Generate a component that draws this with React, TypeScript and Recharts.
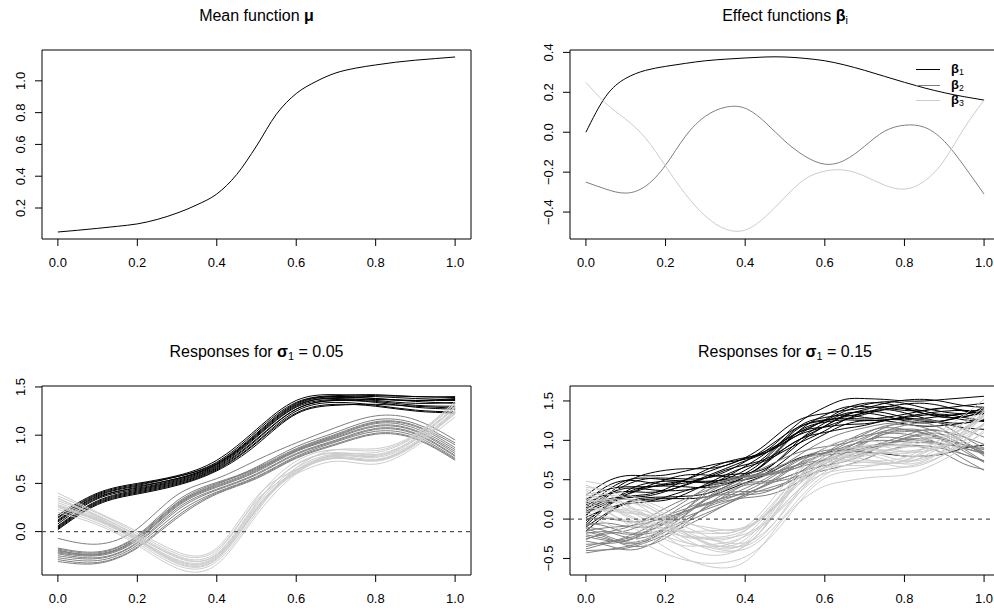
import React from 'react';
import { LineChart, Line, XAxis, YAxis, ReferenceArea, ReferenceLine } from 'recharts';

const FONT = '"Liberation Sans", Arial, Helvetica, sans-serif';
const BLACK = '#000000';
const GRAY = '#7f7f7f';
const LIGHT = '#cccccc';

// shared x ticks
const xTicks = [0, 0.2, 0.4, 0.6, 0.8, 1.0];

// top-left: mean function
const muT = [0, 0.05, 0.1, 0.15, 0.2, 0.25, 0.3, 0.35, 0.4, 0.45, 0.5, 0.55, 0.6, 0.65, 0.7, 0.75, 0.8, 0.85, 0.9, 0.95, 1.0];
const muValues = [0.049, 0.06, 0.072, 0.085, 0.1, 0.128, 0.168, 0.22, 0.288, 0.41, 0.59, 0.79, 0.92, 0.996, 1.05, 1.08, 1.1, 1.117, 1.13, 1.14, 1.15];
const muTicks = [0.2, 0.4, 0.6, 0.8, 1.0];

// top-right: effect functions
const betaT = muT;
const beta1 = [0.0, 0.18, 0.27, 0.31, 0.33, 0.345, 0.358, 0.366, 0.372, 0.377, 0.377, 0.37, 0.358, 0.337, 0.31, 0.28, 0.25, 0.222, 0.198, 0.178, 0.161];
const beta2 = [-0.25, -0.285, -0.305, -0.27, -0.165, -0.02, 0.08, 0.125, 0.12, 0.05, -0.045, -0.12, -0.16, -0.14, -0.07, 0.005, 0.035, 0.025, -0.045, -0.17, -0.31];
const beta3 = [0.25, 0.145, 0.065, -0.03, -0.17, -0.31, -0.42, -0.485, -0.49, -0.425, -0.325, -0.235, -0.195, -0.19, -0.22, -0.265, -0.285, -0.245, -0.14, 0.02, 0.16];
const betaTicks = [-0.4, -0.2, 0, 0.2, 0.4];

// bottom-left: responses, sigma 0.05
const lowT = [0, 0.1, 0.2, 0.3, 0.4, 0.5, 0.6, 0.7, 0.8, 0.9, 1.0];
const lowBlack: number[][] = [
  [0.17, 0.40, 0.50, 0.58, 0.74, 1.06, 1.36, 1.42, 1.41, 1.40, 1.39],
  [0.14, 0.38, 0.48, 0.57, 0.72, 1.04, 1.34, 1.41, 1.42, 1.40, 1.40],
  [0.12, 0.37, 0.47, 0.55, 0.70, 1.01, 1.32, 1.40, 1.40, 1.38, 1.37],
  [0.10, 0.35, 0.46, 0.55, 0.70, 1.00, 1.31, 1.38, 1.36, 1.33, 1.34],
  [0.08, 0.34, 0.44, 0.53, 0.68, 0.98, 1.29, 1.37, 1.37, 1.36, 1.36],
  [0.06, 0.32, 0.43, 0.52, 0.67, 0.96, 1.27, 1.36, 1.35, 1.31, 1.30],
  [0.05, 0.31, 0.42, 0.51, 0.66, 0.95, 1.27, 1.36, 1.34, 1.29, 1.27],
  [0.04, 0.30, 0.41, 0.50, 0.65, 0.93, 1.25, 1.34, 1.31, 1.26, 1.24],
  [0.03, 0.29, 0.40, 0.49, 0.64, 0.92, 1.23, 1.32, 1.30, 1.25, 1.23],
  [0.11, 0.36, 0.45, 0.54, 0.69, 0.99, 1.30, 1.39, 1.38, 1.35, 1.33],
  [0.02, 0.28, 0.39, 0.48, 0.63, 0.90, 1.22, 1.31, 1.32, 1.30, 1.28],
  [0.15, 0.39, 0.49, 0.57, 0.71, 1.02, 1.33, 1.40, 1.38, 1.36, 1.38],
];
const lowGray: number[][] = [
  [-0.07, -0.13, 0.03, 0.38, 0.55, 0.74, 0.92, 1.08, 1.20, 1.16, 0.95],
  [-0.17, -0.21, -0.04, 0.32, 0.51, 0.66, 0.86, 1.01, 1.14, 1.10, 0.90],
  [-0.18, -0.22, -0.05, 0.30, 0.50, 0.65, 0.85, 1.00, 1.13, 1.09, 0.87],
  [-0.20, -0.23, -0.07, 0.28, 0.48, 0.64, 0.84, 0.99, 1.12, 1.07, 0.85],
  [-0.21, -0.24, -0.08, 0.27, 0.47, 0.63, 0.84, 0.98, 1.10, 1.05, 0.83],
  [-0.22, -0.25, -0.09, 0.26, 0.46, 0.62, 0.83, 0.97, 1.09, 1.04, 0.81],
  [-0.23, -0.27, -0.11, 0.24, 0.44, 0.60, 0.81, 0.95, 1.07, 1.02, 0.79],
  [-0.25, -0.28, -0.12, 0.22, 0.43, 0.59, 0.80, 0.94, 1.06, 1.01, 0.78],
  [-0.27, -0.30, -0.14, 0.19, 0.41, 0.57, 0.78, 0.93, 1.04, 0.99, 0.76],
  [-0.29, -0.32, -0.16, 0.16, 0.40, 0.56, 0.77, 0.91, 1.02, 0.97, 0.75],
  [-0.31, -0.33, -0.17, 0.14, 0.39, 0.55, 0.76, 0.90, 1.01, 0.96, 0.74],
  [-0.19, -0.24, -0.06, 0.29, 0.49, 0.67, 0.88, 1.03, 1.16, 1.12, 0.92],
];
const lowLight: number[][] = [
  [0.40, 0.20, 0.00, -0.21, -0.17, 0.36, 0.64, 0.76, 0.74, 0.91, 1.22],
  [0.37, 0.19, -0.02, -0.23, -0.19, 0.34, 0.73, 0.85, 0.84, 1.00, 1.33],
  [0.34, 0.17, -0.04, -0.25, -0.21, 0.32, 0.60, 0.73, 0.70, 0.88, 1.19],
  [0.32, 0.16, -0.05, -0.27, -0.23, 0.30, 0.69, 0.82, 0.80, 0.97, 1.30],
  [0.30, 0.14, -0.07, -0.29, -0.25, 0.27, 0.66, 0.80, 0.78, 0.95, 1.28],
  [0.28, 0.13, -0.08, -0.30, -0.26, 0.25, 0.64, 0.79, 0.77, 0.93, 1.26],
  [0.27, 0.12, -0.09, -0.31, -0.27, 0.24, 0.63, 0.78, 0.75, 0.92, 1.25],
  [0.25, 0.11, -0.10, -0.33, -0.29, 0.22, 0.61, 0.76, 0.73, 0.90, 1.23],
  [0.23, 0.09, -0.12, -0.35, -0.31, 0.20, 0.66, 0.85, 0.86, 1.01, 1.35],
  [0.20, 0.07, -0.14, -0.38, -0.34, 0.17, 0.60, 0.80, 0.82, 0.99, 1.32],
  [0.35, 0.15, -0.06, -0.26, -0.24, 0.29, 0.70, 0.81, 0.79, 0.96, 1.29],
  [0.26, 0.12, -0.08, -0.32, -0.28, 0.23, 0.62, 0.77, 0.74, 0.91, 1.24],
];
const lowTicks = [0, 0.5, 1.0, 1.5];

// bottom-right: responses, sigma 0.15
const highT = muT;
const highBlack: number[][] = [
  [0.30, 0.47, 0.55, 0.55, 0.56, 0.61, 0.67, 0.72, 0.76, 0.86, 1.07, 1.28, 1.42, 1.52, 1.53, 1.52, 1.50, 1.50, 1.52, 1.54, 1.56],
  [0.05, 0.27, 0.43, 0.51, 0.52, 0.51, 0.52, 0.60, 0.73, 0.89, 1.07, 1.20, 1.25, 1.30, 1.35, 1.42, 1.46, 1.47, 1.43, 1.37, 1.34],
  [0.20, 0.31, 0.35, 0.34, 0.36, 0.43, 0.52, 0.62, 0.69, 0.76, 0.90, 1.05, 1.18, 1.31, 1.39, 1.43, 1.40, 1.34, 1.29, 1.30, 1.35],
  [-0.02, 0.15, 0.30, 0.39, 0.45, 0.48, 0.48, 0.50, 0.56, 0.71, 0.95, 1.18, 1.32, 1.42, 1.43, 1.41, 1.38, 1.38, 1.41, 1.44, 1.47],
  [0.15, 0.35, 0.49, 0.52, 0.50, 0.48, 0.47, 0.51, 0.62, 0.79, 1.03, 1.22, 1.29, 1.32, 1.29, 1.27, 1.26, 1.28, 1.31, 1.34, 1.36],
  [-0.10, 0.07, 0.21, 0.27, 0.28, 0.29, 0.32, 0.41, 0.54, 0.70, 0.90, 1.04, 1.10, 1.15, 1.19, 1.25, 1.28, 1.26, 1.21, 1.16, 1.14],
  [0.10, 0.21, 0.27, 0.29, 0.35, 0.44, 0.54, 0.64, 0.74, 0.84, 0.98, 1.10, 1.17, 1.26, 1.33, 1.39, 1.41, 1.37, 1.31, 1.26, 1.24],
  [0.02, 0.13, 0.19, 0.22, 0.28, 0.36, 0.42, 0.46, 0.50, 0.58, 0.75, 0.94, 1.08, 1.20, 1.25, 1.25, 1.21, 1.18, 1.19, 1.22, 1.26],
  [0.25, 0.37, 0.41, 0.41, 0.43, 0.50, 0.59, 0.68, 0.77, 0.86, 1.00, 1.14, 1.25, 1.37, 1.45, 1.49, 1.47, 1.41, 1.36, 1.34, 1.37],
  [-0.05, 0.17, 0.33, 0.41, 0.42, 0.41, 0.40, 0.44, 0.54, 0.72, 0.97, 1.16, 1.23, 1.26, 1.25, 1.26, 1.29, 1.32, 1.33, 1.29, 1.25],
  [0.12, 0.30, 0.39, 0.38, 0.36, 0.37, 0.42, 0.53, 0.67, 0.83, 1.01, 1.13, 1.17, 1.20, 1.21, 1.25, 1.30, 1.34, 1.37, 1.38, 1.37],
  [-0.15, 0.05, 0.20, 0.25, 0.26, 0.26, 0.28, 0.36, 0.46, 0.56, 0.69, 0.80, 0.84, 0.88, 0.85, 0.83, 0.80, 0.80, 0.83, 0.90, 0.94],
  [0.18, 0.25, 0.29, 0.31, 0.38, 0.50, 0.62, 0.72, 0.78, 0.84, 0.97, 1.12, 1.26, 1.40, 1.47, 1.47, 1.41, 1.34, 1.31, 1.34, 1.40],
  [0.04, 0.29, 0.47, 0.57, 0.62, 0.64, 0.64, 0.68, 0.78, 0.94, 1.15, 1.29, 1.34, 1.38, 1.41, 1.47, 1.51, 1.52, 1.49, 1.44, 1.42],
  [0.14, 0.23, 0.25, 0.23, 0.24, 0.32, 0.44, 0.56, 0.66, 0.74, 0.87, 1.00, 1.12, 1.26, 1.35, 1.39, 1.35, 1.28, 1.23, 1.22, 1.26],
  [-0.08, 0.15, 0.35, 0.45, 0.48, 0.48, 0.46, 0.48, 0.58, 0.76, 1.01, 1.20, 1.26, 1.28, 1.27, 1.29, 1.33, 1.38, 1.41, 1.38, 1.32],
  [0.22, 0.41, 0.49, 0.47, 0.44, 0.46, 0.52, 0.56, 0.58, 0.64, 0.81, 1.02, 1.18, 1.32, 1.37, 1.35, 1.29, 1.24, 1.25, 1.30, 1.36],
  [0.08, 0.19, 0.31, 0.41, 0.50, 0.56, 0.56, 0.54, 0.54, 0.62, 0.83, 1.06, 1.22, 1.34, 1.35, 1.31, 1.25, 1.22, 1.25, 1.32, 1.42],
];
const highGray: number[][] = [
  [-0.10, -0.15, -0.23, -0.23, -0.12, 0.05, 0.24, 0.39, 0.46, 0.48, 0.53, 0.63, 0.76, 0.89, 1.02, 1.12, 1.13, 1.09, 0.99, 0.90, 0.83],
  [-0.15, -0.11, -0.09, -0.05, 0.02, 0.10, 0.19, 0.28, 0.39, 0.51, 0.66, 0.80, 0.87, 0.90, 0.92, 0.96, 0.99, 1.03, 1.01, 0.94, 0.84],
  [-0.20, -0.25, -0.31, -0.28, -0.13, 0.06, 0.26, 0.41, 0.51, 0.56, 0.61, 0.68, 0.75, 0.84, 0.96, 1.08, 1.14, 1.12, 1.01, 0.86, 0.72],
  [-0.05, -0.09, -0.17, -0.16, -0.05, 0.12, 0.31, 0.45, 0.54, 0.58, 0.63, 0.72, 0.83, 0.95, 1.08, 1.18, 1.20, 1.16, 1.06, 0.94, 0.85],
  [-0.18, -0.16, -0.19, -0.19, -0.12, -0.01, 0.14, 0.30, 0.44, 0.55, 0.64, 0.71, 0.75, 0.78, 0.84, 0.94, 1.03, 1.09, 1.07, 0.98, 0.85],
  [0.00, 0.01, -0.03, -0.02, 0.08, 0.23, 0.39, 0.49, 0.53, 0.58, 0.70, 0.86, 1.00, 1.10, 1.16, 1.21, 1.23, 1.25, 1.22, 1.14, 1.04],
  [-0.25, -0.19, -0.15, -0.06, 0.04, 0.13, 0.24, 0.37, 0.50, 0.61, 0.70, 0.78, 0.83, 0.88, 0.98, 1.11, 1.19, 1.22, 1.13, 0.97, 0.82],
  [-0.32, -0.31, -0.28, -0.18, -0.03, 0.10, 0.20, 0.27, 0.33, 0.43, 0.58, 0.76, 0.90, 1.00, 1.06, 1.10, 1.11, 1.13, 1.11, 1.04, 0.95],
  [-0.40, -0.39, -0.37, -0.30, -0.20, -0.09, 0.04, 0.18, 0.31, 0.42, 0.53, 0.62, 0.68, 0.73, 0.82, 0.94, 1.01, 1.01, 0.91, 0.76, 0.62],
  [-0.28, -0.33, -0.39, -0.35, -0.20, -0.02, 0.14, 0.23, 0.27, 0.30, 0.38, 0.52, 0.66, 0.78, 0.88, 0.94, 0.94, 0.93, 0.89, 0.82, 0.74],
  [-0.35, -0.29, -0.25, -0.16, -0.06, 0.03, 0.12, 0.21, 0.31, 0.44, 0.60, 0.74, 0.81, 0.84, 0.88, 0.95, 1.02, 1.07, 1.03, 0.89, 0.73],
  [-0.43, -0.39, -0.35, -0.28, -0.16, -0.04, 0.07, 0.18, 0.29, 0.38, 0.46, 0.55, 0.62, 0.68, 0.76, 0.86, 0.92, 0.91, 0.83, 0.70, 0.63],
  [-0.12, -0.21, -0.29, -0.26, -0.10, 0.12, 0.34, 0.49, 0.55, 0.56, 0.60, 0.70, 0.84, 0.98, 1.10, 1.16, 1.14, 1.09, 1.01, 0.94, 0.88],
  [-0.26, -0.17, -0.11, 0.00, 0.14, 0.26, 0.36, 0.45, 0.55, 0.66, 0.78, 0.87, 0.92, 0.96, 1.04, 1.16, 1.24, 1.27, 1.19, 1.04, 0.90],
  [-0.16, -0.23, -0.33, -0.34, -0.24, -0.06, 0.16, 0.33, 0.43, 0.46, 0.50, 0.58, 0.70, 0.84, 0.98, 1.08, 1.08, 1.03, 0.93, 0.82, 0.74],
  [-0.38, -0.31, -0.23, -0.12, 0.00, 0.10, 0.18, 0.25, 0.35, 0.48, 0.64, 0.78, 0.84, 0.86, 0.90, 0.98, 1.06, 1.13, 1.11, 0.98, 0.80],
  [-0.08, -0.05, -0.09, -0.10, -0.04, 0.08, 0.24, 0.33, 0.35, 0.36, 0.44, 0.60, 0.76, 0.90, 1.00, 1.04, 1.02, 0.99, 0.95, 0.90, 0.84],
  [-0.22, -0.27, -0.27, -0.16, 0.02, 0.18, 0.28, 0.31, 0.31, 0.34, 0.46, 0.64, 0.80, 0.92, 0.98, 1.00, 0.98, 0.97, 0.95, 0.92, 0.90],
];
const highLight: number[][] = [
  [0.16, 0.11, 0.08, 0.04, -0.05, -0.18, -0.29, -0.36, -0.32, -0.09, 0.25, 0.58, 0.80, 0.90, 0.90, 0.86, 0.83, 0.90, 1.04, 1.22, 1.43],
  [0.08, 0.03, -0.01, -0.08, -0.22, -0.37, -0.45, -0.45, -0.34, -0.10, 0.20, 0.44, 0.58, 0.63, 0.66, 0.70, 0.73, 0.78, 0.84, 0.94, 1.10],
  [0.20, 0.09, -0.03, -0.13, -0.22, -0.30, -0.35, -0.40, -0.38, -0.22, 0.05, 0.34, 0.56, 0.68, 0.72, 0.70, 0.66, 0.70, 0.82, 1.00, 1.22],
  [0.13, 0.13, 0.11, 0.06, -0.08, -0.25, -0.37, -0.42, -0.34, -0.08, 0.27, 0.56, 0.71, 0.74, 0.72, 0.71, 0.74, 0.84, 0.96, 1.07, 1.21],
  [0.23, 0.11, -0.05, -0.20, -0.36, -0.50, -0.59, -0.62, -0.54, -0.29, 0.03, 0.27, 0.42, 0.48, 0.52, 0.54, 0.56, 0.64, 0.76, 0.92, 1.13],
  [0.48, 0.43, 0.33, 0.20, 0.06, -0.05, -0.10, -0.14, -0.12, 0.06, 0.37, 0.68, 0.90, 1.00, 1.00, 0.97, 0.95, 1.02, 1.15, 1.32, 1.52],
  [0.38, 0.27, 0.13, -0.01, -0.14, -0.23, -0.25, -0.24, -0.19, -0.04, 0.20, 0.45, 0.66, 0.79, 0.86, 0.88, 0.85, 0.86, 0.92, 1.08, 1.31],
  [0.33, 0.31, 0.27, 0.17, 0.00, -0.18, -0.30, -0.35, -0.26, -0.01, 0.33, 0.62, 0.77, 0.80, 0.76, 0.72, 0.71, 0.80, 0.94, 1.12, 1.32],
  [0.28, 0.17, 0.05, -0.06, -0.15, -0.22, -0.23, -0.22, -0.14, 0.04, 0.28, 0.50, 0.65, 0.74, 0.80, 0.84, 0.86, 0.89, 0.94, 1.04, 1.20],
  [0.43, 0.33, 0.19, 0.06, -0.07, -0.16, -0.18, -0.18, -0.11, 0.06, 0.30, 0.54, 0.73, 0.85, 0.92, 0.94, 0.92, 0.93, 0.99, 1.12, 1.33],
  [0.30, 0.26, 0.17, 0.03, -0.14, -0.29, -0.35, -0.33, -0.21, 0.03, 0.31, 0.53, 0.65, 0.68, 0.68, 0.70, 0.75, 0.86, 1.00, 1.16, 1.33],
  [0.23, 0.23, 0.21, 0.16, 0.02, -0.15, -0.25, -0.26, -0.15, 0.09, 0.37, 0.60, 0.73, 0.78, 0.82, 0.87, 0.91, 0.99, 1.06, 1.15, 1.30],
  [0.36, 0.21, 0.07, -0.04, -0.12, -0.16, -0.15, -0.14, -0.10, 0.04, 0.27, 0.52, 0.74, 0.88, 0.94, 0.92, 0.86, 0.86, 0.94, 1.12, 1.36],
  [0.22, 0.25, 0.25, 0.22, 0.12, -0.02, -0.13, -0.18, -0.10, 0.14, 0.45, 0.69, 0.82, 0.86, 0.88, 0.92, 0.96, 1.04, 1.12, 1.22, 1.38],
  [0.32, 0.19, 0.03, -0.12, -0.26, -0.34, -0.33, -0.30, -0.22, -0.06, 0.17, 0.40, 0.60, 0.74, 0.82, 0.84, 0.80, 0.80, 0.86, 1.00, 1.22],
  [0.10, 0.11, 0.13, 0.10, -0.02, -0.18, -0.31, -0.38, -0.30, -0.04, 0.31, 0.60, 0.74, 0.76, 0.74, 0.74, 0.78, 0.90, 1.04, 1.16, 1.28],
  [0.40, 0.37, 0.27, 0.12, -0.06, -0.20, -0.25, -0.30, -0.30, -0.16, 0.11, 0.42, 0.66, 0.80, 0.84, 0.80, 0.74, 0.76, 0.88, 1.08, 1.32],
  [0.26, 0.15, 0.09, 0.06, 0.00, -0.10, -0.21, -0.32, -0.34, -0.18, 0.13, 0.46, 0.70, 0.82, 0.82, 0.76, 0.70, 0.74, 0.88, 1.10, 1.38],
  [0.05, -0.05, -0.18, -0.32, -0.44, -0.52, -0.56, -0.55, -0.48, -0.30, -0.02, 0.30, 0.52, 0.60, 0.62, 0.63, 0.66, 0.72, 0.82, 0.98, 1.20],
];
const highTicks = [-0.5, 0, 0.5, 1.0, 1.5];

type Series = { values: number[]; color: string };

const toRows = (t: number[], series: Series[]) =>
  t.map((x, i) => {
    const row: Record<string, number> = { t: x };
    series.forEach((s, j) => {
      row['s' + j] = s.values[i];
    });
    return row;
  });

const groupSeries = (black: number[][], gray: number[][], light: number[][]): Series[] => [
  ...black.map((values) => ({ values, color: BLACK })),
  ...gray.map((values) => ({ values, color: GRAY })),
  ...light.map((values) => ({ values, color: LIGHT })),
];

const fmt = (v: number) => (v < 0 ? '\u2212' : '') + Math.abs(v).toFixed(1);

const RotatedTick = (props: any) => {
  const { x, y, payload } = props;
  return (
    <text x={x} y={y} transform={`rotate(-90 ${x} ${y})`} textAnchor="middle" fontSize={13} fontFamily={FONT} fill="#000">
      {fmt(payload.value)}
    </text>
  );
};

interface PanelProps {
  left: number;
  top: number;
  width: number;
  marginTop: number;
  marginLeft: number;
  marginRight: number;
  xAxisHeight: number;
  domain: [number, number];
  yTicks: number[];
  rows: Record<string, number>[];
  series: Series[];
  curve: 'natural' | 'monotone';
  zeroLine?: boolean;
}

const Panel: React.FC<PanelProps> = ({ left, top, width, marginTop, marginLeft, marginRight, xAxisHeight, domain, yTicks, rows, series, curve, zeroLine }) => (
  <div style={{ position: 'absolute', left, top }}>
    <LineChart width={width} height={305} data={rows} margin={{ top: marginTop, right: marginRight, bottom: 0, left: marginLeft }}>
      <XAxis
        dataKey="t"
        type="number"
        domain={[-0.04, 1.04]}
        ticks={xTicks}
        interval={0}
        allowDataOverflow
        axisLine={false}
        stroke="#000"
        tickSize={7}
        tickMargin={12}
        height={xAxisHeight}
        tick={{ fill: '#000', fontSize: 13, fontFamily: FONT }}
        tickFormatter={fmt}
      />
      <YAxis
        type="number"
        domain={domain}
        ticks={yTicks}
        interval={0}
        allowDataOverflow
        axisLine={false}
        stroke="#000"
        tickSize={7}
        tickMargin={10}
        width={36}
        tick={(p: any) => <RotatedTick {...p} />}
      />
      {series.map((s, j) => (
        <Line
          key={j}
          dataKey={'s' + j}
          type={curve}
          stroke={s.color}
          strokeWidth={1}
          dot={false}
          activeDot={false}
          isAnimationActive={false}
        />
      ))}
      {zeroLine && <ReferenceLine y={0} stroke="#555" strokeWidth={1.2} strokeDasharray="4 4" />}
      <ReferenceArea x1={-0.04} x2={1.04} y1={domain[0]} y2={domain[1]} fill="none" fillOpacity={0} stroke="#000" strokeWidth={1} />
    </LineChart>
  </div>
);

const titleStyle = (left: number, top: number, width: number): React.CSSProperties => ({
  position: 'absolute',
  left,
  top,
  width,
  textAlign: 'center',
  fontFamily: FONT,
  fontSize: 16,
  lineHeight: '16px',
  color: '#000',
  whiteSpace: 'nowrap',
});

const subStyle: React.CSSProperties = { fontSize: '0.68em', verticalAlign: '-0.25em', lineHeight: 0 };

const legendItems = [
  { label: '1', color: BLACK },
  { label: '2', color: GRAY },
  { label: '3', color: LIGHT },
];

const App: React.FC = () => {
  const muRows = toRows(muT, [{ values: muValues, color: BLACK }]);
  const betaSeries: Series[] = [
    { values: beta1, color: BLACK },
    { values: beta2, color: GRAY },
    { values: beta3, color: LIGHT },
  ];
  const betaRows = toRows(betaT, betaSeries);
  const lowSeries = groupSeries(lowBlack, lowGray, lowLight);
  const lowRows = toRows(lowT, lowSeries);
  const highSeries = groupSeries(highBlack, highGray, highLight);
  const highRows = toRows(highT, highSeries);

  return (
    <div style={{ position: 'absolute', left: 0, top: 0, width: 994, height: 610, overflow: 'hidden', background: '#fff' }}>
      <Panel left={0} top={0} width={497} marginTop={50} marginLeft={6} marginRight={26} xAxisHeight={66} domain={[0.005, 1.194]} yTicks={muTicks} rows={muRows} series={[{ values: muValues, color: BLACK }]} curve="monotone" />
      <Panel left={497} top={0} width={510} marginTop={50} marginLeft={37} marginRight={7} xAxisHeight={66} domain={[-0.535, 0.412]} yTicks={betaTicks} rows={betaRows} series={betaSeries} curve="natural" />
      <Panel left={0} top={305} width={497} marginTop={81} marginLeft={6} marginRight={26} xAxisHeight={35} domain={[-0.45, 1.51]} yTicks={lowTicks} rows={lowRows} series={lowSeries} curve="natural" zeroLine />
      <Panel left={497} top={305} width={510} marginTop={81} marginLeft={37} marginRight={7} xAxisHeight={35} domain={[-0.71, 1.69]} yTicks={highTicks} rows={highRows} series={highSeries} curve="natural" zeroLine />

      <div style={titleStyle(42, 8, 429)}>
        Mean function <b>μ</b>
      </div>
      <div style={titleStyle(570, 8, 430)}>
        Effect functions <b>β</b>
        <span style={subStyle}>i</span>
      </div>
      <div style={titleStyle(42, 344, 429)}>
        Responses for <b>σ</b>
        <span style={subStyle}>1</span> = 0.05
      </div>
      <div style={titleStyle(570, 344, 430)}>
        Responses for <b>σ</b>
        <span style={subStyle}>1</span> = 0.15
      </div>

      {legendItems.map((item, i) => (
        <div key={item.label} style={{ position: 'absolute', left: 916, top: 62 + i * 15.5, height: 14, width: 70 }}>
          <div style={{ position: 'absolute', left: 0, top: 7, width: 24, borderTop: `1px solid ${item.color}` }} />
          <div style={{ position: 'absolute', left: 35, top: 0, fontFamily: FONT, fontSize: 13, lineHeight: '14px', color: '#000', whiteSpace: 'nowrap' }}>
            <b>β</b>
            <span style={subStyle}>{item.label}</span>
          </div>
        </div>
      ))}
    </div>
  );
};

export default App;
